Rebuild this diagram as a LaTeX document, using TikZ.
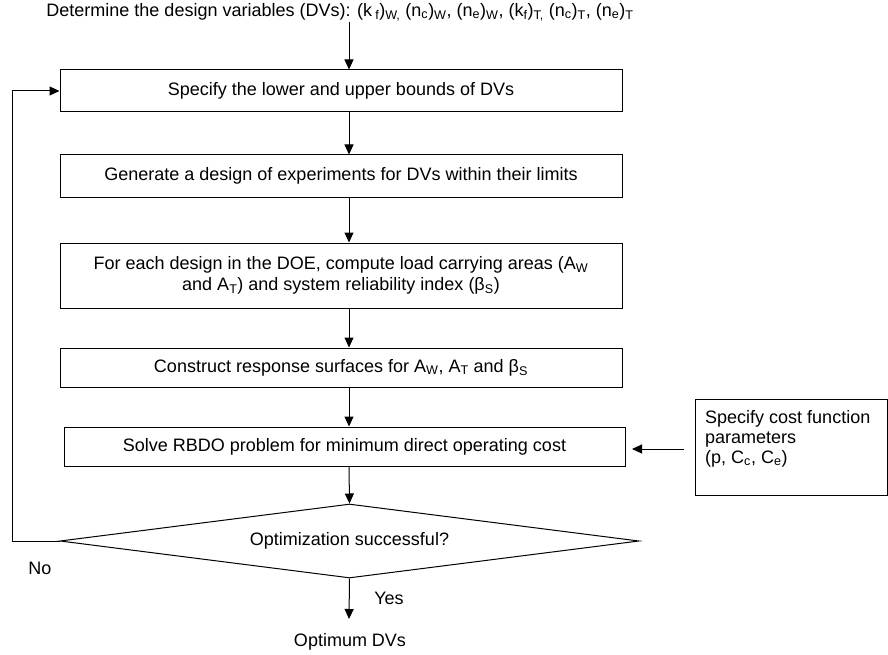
\documentclass[tikz,border=0pt]{standalone}
\usepackage{fontspec}
\setmainfont{Liberation Sans}
\usetikzlibrary{arrows.meta,shapes.geometric}
\tikzset{
  every node/.style={font=\fontsize{18}{20}\selectfont, inner sep=0pt},
  procbox/.style={draw, line width=1pt, minimum width=562pt, align=center},
  flow/.style={line width=1pt, -{Triangle[length=10pt,width=9pt]}},
}
\begin{document}
\begin{tikzpicture}[x=1pt,y=-1pt]
\useasboundingbox (0,0) rectangle (888,655);
\coordinate (ax) at (349,0);
\node (title) at (340,12) {Determine the design variables (DVs): (k\,\textsubscript{f})\textsubscript{W,} (n\textsubscript{c})\textsubscript{W}, (n\textsubscript{e})\textsubscript{W}, (k\textsubscript{f})\textsubscript{T,} (n\textsubscript{c})\textsubscript{T}, (n\textsubscript{e})\textsubscript{T}};
\node[procbox, minimum height=42pt] (b1) at (341,91) {Specify the lower and upper bounds of DVs};
\node[procbox, minimum height=42pt] (b2) at (341,176) {Generate a design of experiments for DVs within their limits};
\node[procbox, minimum height=65pt, font=\fontsize{18}{21}\selectfont] (b3) at (341,275.5) {For each design in the DOE, compute load carrying areas (A\textsubscript{W}\\and A\textsubscript{T}) and system reliability index (β\textsubscript{S})};
\node[procbox, minimum height=39pt] (b4) at (341,367.5) {Construct response surfaces for A\textsubscript{W}, A\textsubscript{T} and β\textsubscript{S}};
\node[procbox, minimum height=39pt, minimum width=561pt] (b5) at (344.5,446.5) {Solve RBDO problem for minimum direct operating cost};
\node[draw, line width=1pt, minimum width=192pt, minimum height=96pt] (cost) at (791,447) {};
\node[anchor=north west, align=left] (costtxt) at (705,410) {Specify cost function\\parameters\\(p, C\textsubscript{c}, C\textsubscript{e})};
\node[draw, line width=1pt, shape=diamond, aspect=7.8, minimum width=579pt, minimum height=74pt] (dec) at (349.5,541) {Optimization successful?};
\node (no) at (40,568) {No};
\node (yes) at (389,598) {Yes};
\node (opt) at (350,642) {Optimum DVs};
\coordinate (titleout) at (349,22);
\coordinate (optin) at (349,619);
\coordinate (costout) at (684,449);
\coordinate (b5in) at (632,449);
\coordinate (loop) at (12,541);

\draw[flow] (titleout) -- (ax |- b1.north);
\draw[flow] (ax |- b1.south) -- (ax |- b2.north);
\draw[flow] (ax |- b2.south) -- (ax |- b3.north);
\draw[flow] (ax |- b3.south) -- (ax |- b4.north);
\draw[flow] (ax |- b4.south) -- (ax |- b5.north);
\draw[flow] (ax |- b5.south) -- (dec.north);
\draw[flow] (dec.south) -- (optin);
\draw[flow] (costout) -- (b5in);
\draw[flow] (dec.west) -- (loop) |- (b1.west);
\end{tikzpicture}
\end{document}
